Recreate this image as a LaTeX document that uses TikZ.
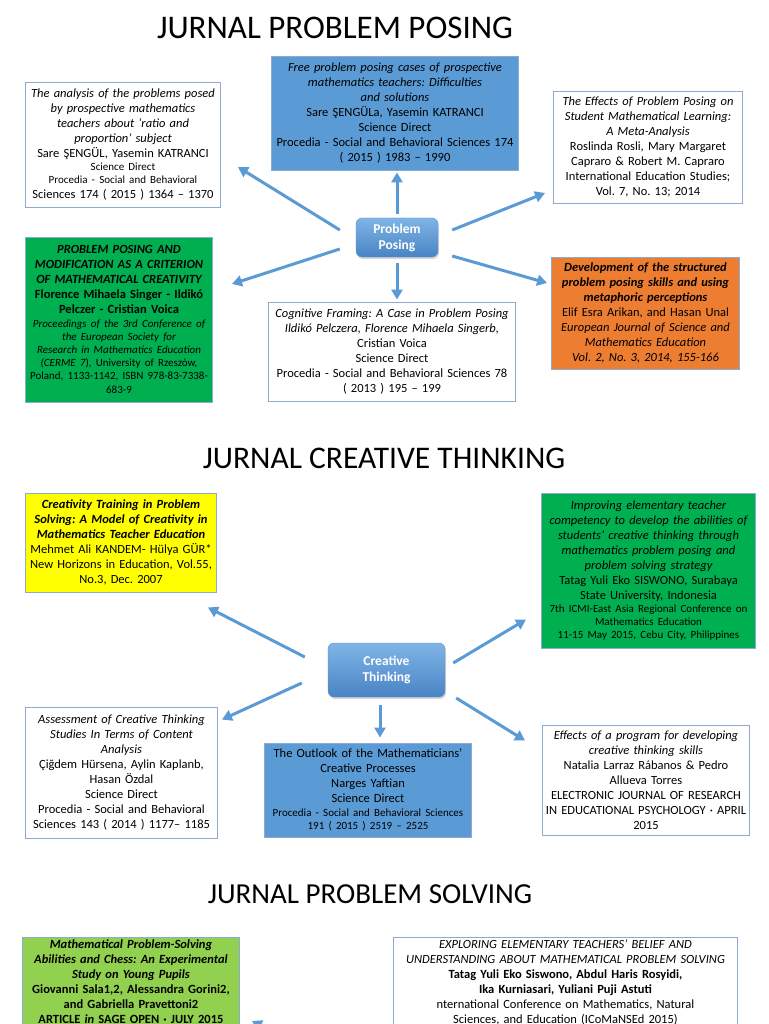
\documentclass[tikz,border=0pt]{standalone}
\usepackage{fontspec}
\setmainfont{Carlito}
\usepackage{xcolor}
\usepackage{tikz}
\usetikzlibrary{arrows.meta, positioning, calc, shadows}
\definecolor{refblue}{RGB}{91,155,213}
\definecolor{refline}{RGB}{140,170,210}
\definecolor{refgreen}{RGB}{0,176,80}
\definecolor{reforange}{RGB}{237,125,49}
\definecolor{refyellow}{RGB}{255,255,0}
\definecolor{reflime}{RGB}{146,208,80}
\definecolor{hubtop}{RGB}{128,180,230}
\definecolor{hubbot}{RGB}{72,132,196}
\definecolor{hubline}{RGB}{95,145,205}
\newcommand{\reftxt}{\fontsize{12.5}{15}\selectfont}
\newcommand{\smalltxt}{\fontsize{11}{13.2}\selectfont}
\frenchspacing

\begin{document}
\begin{tikzpicture}[
    x=1pt, y=-1pt,
    title/.style={font=\fontsize{#1}{40}\selectfont},
    paper/.style={draw=refline, line width=0.9pt, align=center, inner xsep=3pt, inner ysep=2pt, font=\reftxt},
    hub/.style={rounded corners=6pt, draw=hubline, top color=hubtop, bottom color=hubbot, text=white, align=center,
        font=\bfseries\fontsize{13.5}{16}\selectfont, drop shadow={shadow xshift=1pt, shadow yshift=-2pt, opacity=0.3}},
    linkarrow/.style={draw=refblue, line width=3pt, -{Triangle[width=11pt,length=10pt]}}
]
    \fill[white] (0,0) rectangle (768,1024);
    \useasboundingbox (0,0) rectangle (768,1024);

    \node[title=33] (t1) at (335,28) {JURNAL PROBLEM POSING};

    \node[paper, text width=189, minimum height=125] (tl) at (123,144.5) {%
        {\itshape The analysis of the problems posed\\ by prospective mathematics\\ teachers about ‘ratio and\\ proportion’ subject\par}
        Sare ŞENGÜL, Yasemin KATRANCI\par
        {\smalltxt Science Direct\\ Procedia - Social and Behavioral\par}
        Sciences 174 ( 2015 ) 1364 – 1370};
    \node[paper, fill=refblue, text width=241, minimum height=114] (tc) at (395,113) {%
        {\itshape Free problem posing cases of prospective\\ mathematics teachers: Difficulties\\ and solutions\par}
        Sare ŞENGÜLa, Yasemin KATRANCI\\ Science Direct\\ Procedia - Social and Behavioral Sciences 174\\ ( 2015 ) 1983 – 1990};
    \node[paper, text width=183, minimum height=112] (tr) at (648,147) {%
        {\itshape The Effects of Problem Posing on\\ Student Mathematical Learning:\\ A Meta-Analysis\par}
        Roslinda Rosli, Mary Margaret\\ Capraro \& Robert M. Capraro\\ International Education Studies;\\ Vol. 7, No. 13; 2014};
    \node[paper, fill=refgreen, text width=181, minimum height=165] (gl) at (119,319.5) {%
        {\bfseries\itshape PROBLEM POSING AND\\ MODIFICATION AS A CRITERION\\ OF MATHEMATICAL CREATIVITY\par}
        {\bfseries Florence Mihaela Singer - Ildikó\\ Pelczer - Cristian Voica\par}
        {\smalltxt {\itshape Proceedings of the 3rd Conference of\\ the European Society for\\ Research in Mathematics Education\\ (CERME 7}), University of Rzeszów,\\ Poland, 1133-1142, ISBN 978-83-7338-\\ 683-9\par}};
    \node[paper, text width=241, minimum height=99] (cb) at (392,351.5) {%
        {\itshape Cognitive Framing: A Case in Problem Posing\\ Ildikó Pelczera, Florence Mihaela Singerb,\par}
        Cristian Voica\\ Science Direct\\ Procedia - Social and Behavioral Sciences 78\\ ( 2013 ) 195 – 199};
    \node[paper, fill=reforange, text width=182, minimum height=112] (ora) at (645.5,313) {%
        {\bfseries\itshape Development of the structured\\ problem posing skills and using\\ metaphoric perceptions\par}
        Elif Esra Arikan, and Hasan Unal\par
        {\itshape European Journal of Science and\\ Mathematics Education\\ Vol. 2, No. 3, 2014, 155-166\par}};

    \node[hub, minimum width=82, minimum height=39] (pp) at (397,237.5) {Problem\\Posing};

    \draw[linkarrow] ($(pp.north)+(0,-4)$) -- ($(pp.north |- tc.south)+(0,2)$);
    \draw[linkarrow] ($(pp.west)+(-16,-7.5)$) -- ($(tl.east)+(17,22.5)$);
    \draw[linkarrow] ($(pp.east)+(14,-7.5)$) -- ($(tr.west)+(-8,46)$);
    \draw[linkarrow] ($(pp.west)+(-16,11.5)$) -- ($(gl.east)+(19,-35.5)$);
    \draw[linkarrow] ($(pp.east)+(14,18.5)$) -- ($(ora.west)+(-4,-30)$);
    \draw[linkarrow] ($(pp.south)+(0,6)$) -- ($(pp.south |- cb.north)+(0,-2)$);

    \node[title=31.5] (t2) at (384,458) {JURNAL CREATIVE THINKING};

    \node[paper, fill=refyellow, text width=185, minimum height=99] (ye) at (121,542.5) {%
        {\bfseries\itshape Creativity Training in Problem\\ Solving: A Model of Creativity in\\ Mathematics Teacher Education\par}
        Mehmet Ali KANDEM- Hülya GÜR*\\ New Horizons in Education, Vol.55,\\ No.3, Dec. 2007};
    \node[paper, fill=refgreen, text width=208, minimum height=155] (gr) at (648.5,570.5) {%
        {\itshape Improving elementary teacher\\ competency to develop the abilities of\\ students’ creative thinking through\\ mathematics problem posing and\\ problem solving strategy\par}
        Tatag Yuli Eko SISWONO, Surabaya\\ State University, Indonesia\par
        {\smalltxt 7th ICMI-East Asia Regional Conference on\\ Mathematics Education\\ 11-15 May 2015, Cebu City, Philippines\par}};
    \node[paper, text width=186, minimum height=131] (bl) at (121.5,772.5) {%
        {\itshape Assessment of Creative Thinking\\ Studies In Terms of Content\\ Analysis\par}
        Çiğdem Hürsena, Aylin Kaplanb,\\ Hasan Özdal\\ Science Direct\\ Procedia - Social and Behavioral\\ Sciences 143 ( 2014 ) 1177– 1185};
    \node[paper, fill=refblue, text width=201, minimum height=94] (cbl) at (368,790) {%
        The Outlook of the Mathematicians’\\ Creative Processes\\ Narges Yaftian\\ Science Direct\par
        {\smalltxt Procedia - Social and Behavioral Sciences\\ 191 ( 2015 ) 2519 – 2525\par}};
    \node[paper, text width=201, minimum height=110] (rb) at (646,780) {%
        {\itshape Effects of a program for developing\\ creative thinking skills\par}
        Natalia Larraz Rábanos \& Pedro\\ Allueva Torres\\ ELECTRONIC JOURNAL OF RESEARCH\\ IN EDUCATIONAL PSYCHOLOGY · APRIL\\ 2015};

    \node[hub, minimum width=117, minimum height=54] (ct) at (386.5,670) {Creative\\Thinking};

    \draw[linkarrow] ($(ct.west)+(-23,-13)$) -- ($(ye.south east)+(-9,15)$);
    \draw[linkarrow] ($(ct.west)+(-26,13)$) -- ($(bl.north east)+(4,13)$);
    \draw[linkarrow] ($(ct.south)+(-6.5,8)$) -- ($(cbl.north)+(12,-5)$);
    \draw[linkarrow] ($(ct.east)+(8,-7)$) -- ($(gr.south west)+(-15,-29)$);
    \draw[linkarrow] ($(ct.east)+(11,28)$) -- ($(rb.north west)+(-17,16)$);

    \node[title=29] (t3) at (370,894) {JURNAL PROBLEM SOLVING};

    \node[paper, fill=reflime, text width=211, anchor=north west] (ps1) at (22,937) {%
        {\bfseries\itshape Mathematical Problem-Solving\\ Abilities and Chess: An Experimental\\ Study on Young Pupils\par}
        {\bfseries Giovanni Sala1,2, Alessandra Gorini2,\\ and Gabriella Pravettoni2\\ ARTICLE {\itshape in} SAGE OPEN · JULY 2015\par}
        \vspace*{40pt}};
    \node[paper, text width=338, anchor=north west] (ps2) at (393,937) {%
        {\itshape EXPLORING ELEMENTARY TEACHERS’ BELIEF AND\\ UNDERSTANDING ABOUT MATHEMATICAL PROBLEM SOLVING\par}
        {\bfseries Tatag Yuli Eko Siswono, Abdul Haris Rosyidi,\\ Ika Kurniasari, Yuliani Puji Astuti\par}
        nternational Conference on Mathematics, Natural\\ Sciences, and Education (ICoMaNSEd 2015)\par
        \vspace*{40pt}};

    \coordinate (pshub) at (305,1048);
    \draw[linkarrow] (pshub) -- ($(ps1.north east)+(12,84)$);
\end{tikzpicture}
\end{document}
